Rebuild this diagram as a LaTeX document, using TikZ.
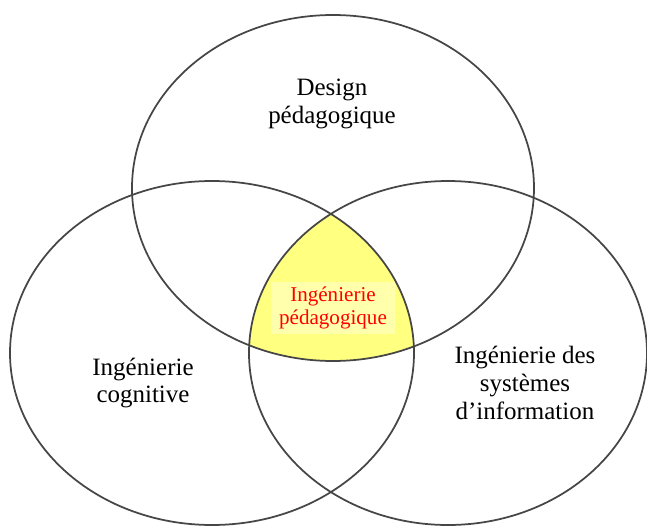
\documentclass[tikz,border=0pt]{standalone}
\usepackage{fontspec}
\setmainfont{Liberation Serif}
\usetikzlibrary{positioning}
\definecolor{venngray}{RGB}{70,70,70}
\definecolor{coreyellow}{RGB}{255,255,128}
\definecolor{boxyellow}{RGB}{255,255,172}

\begin{document}
\begin{tikzpicture}[x=0.2mm,y=-0.2mm,
    set line/.style={draw=venngray,line width=0.35mm},
    big label/.style={align=center,inner sep=0pt,font=\fontsize{14.2}{15.9}\selectfont},
    core label/.style={align=center,text=red,fill=boxyellow,inner xsep=1.6mm,inner ysep=1mm,font=\fontsize{12}{13.1}\selectfont}]
  \useasboundingbox (0,0) rectangle (647,526);
  % common part of the three sets
  \begin{scope}
    \clip (333,188) ellipse [x radius=201,y radius=173];
    \clip (212,353) ellipse [x radius=202,y radius=172];
    \clip (448,353) ellipse [x radius=199,y radius=172];
    \fill[coreyellow] (0,0) rectangle (647,526);
    \node[core label] (core) at (333,308) {Ingénierie\\pédagogique};
  \end{scope}
  \draw[set line] (333,188) ellipse [x radius=201,y radius=173];
  \draw[set line] (212,353) ellipse [x radius=202,y radius=172];
  \draw[set line] (448,353) ellipse [x radius=199,y radius=172];
  \node[big label] (design) at (332,104) {Design\\pédagogique};
  \node[big label] (cogn) at (143,383) {Ingénierie\\cognitive};
  \node[big label] (sysinfo) at (525,383) {Ingénierie des\\systèmes\\d’information};
\end{tikzpicture}
\end{document}
